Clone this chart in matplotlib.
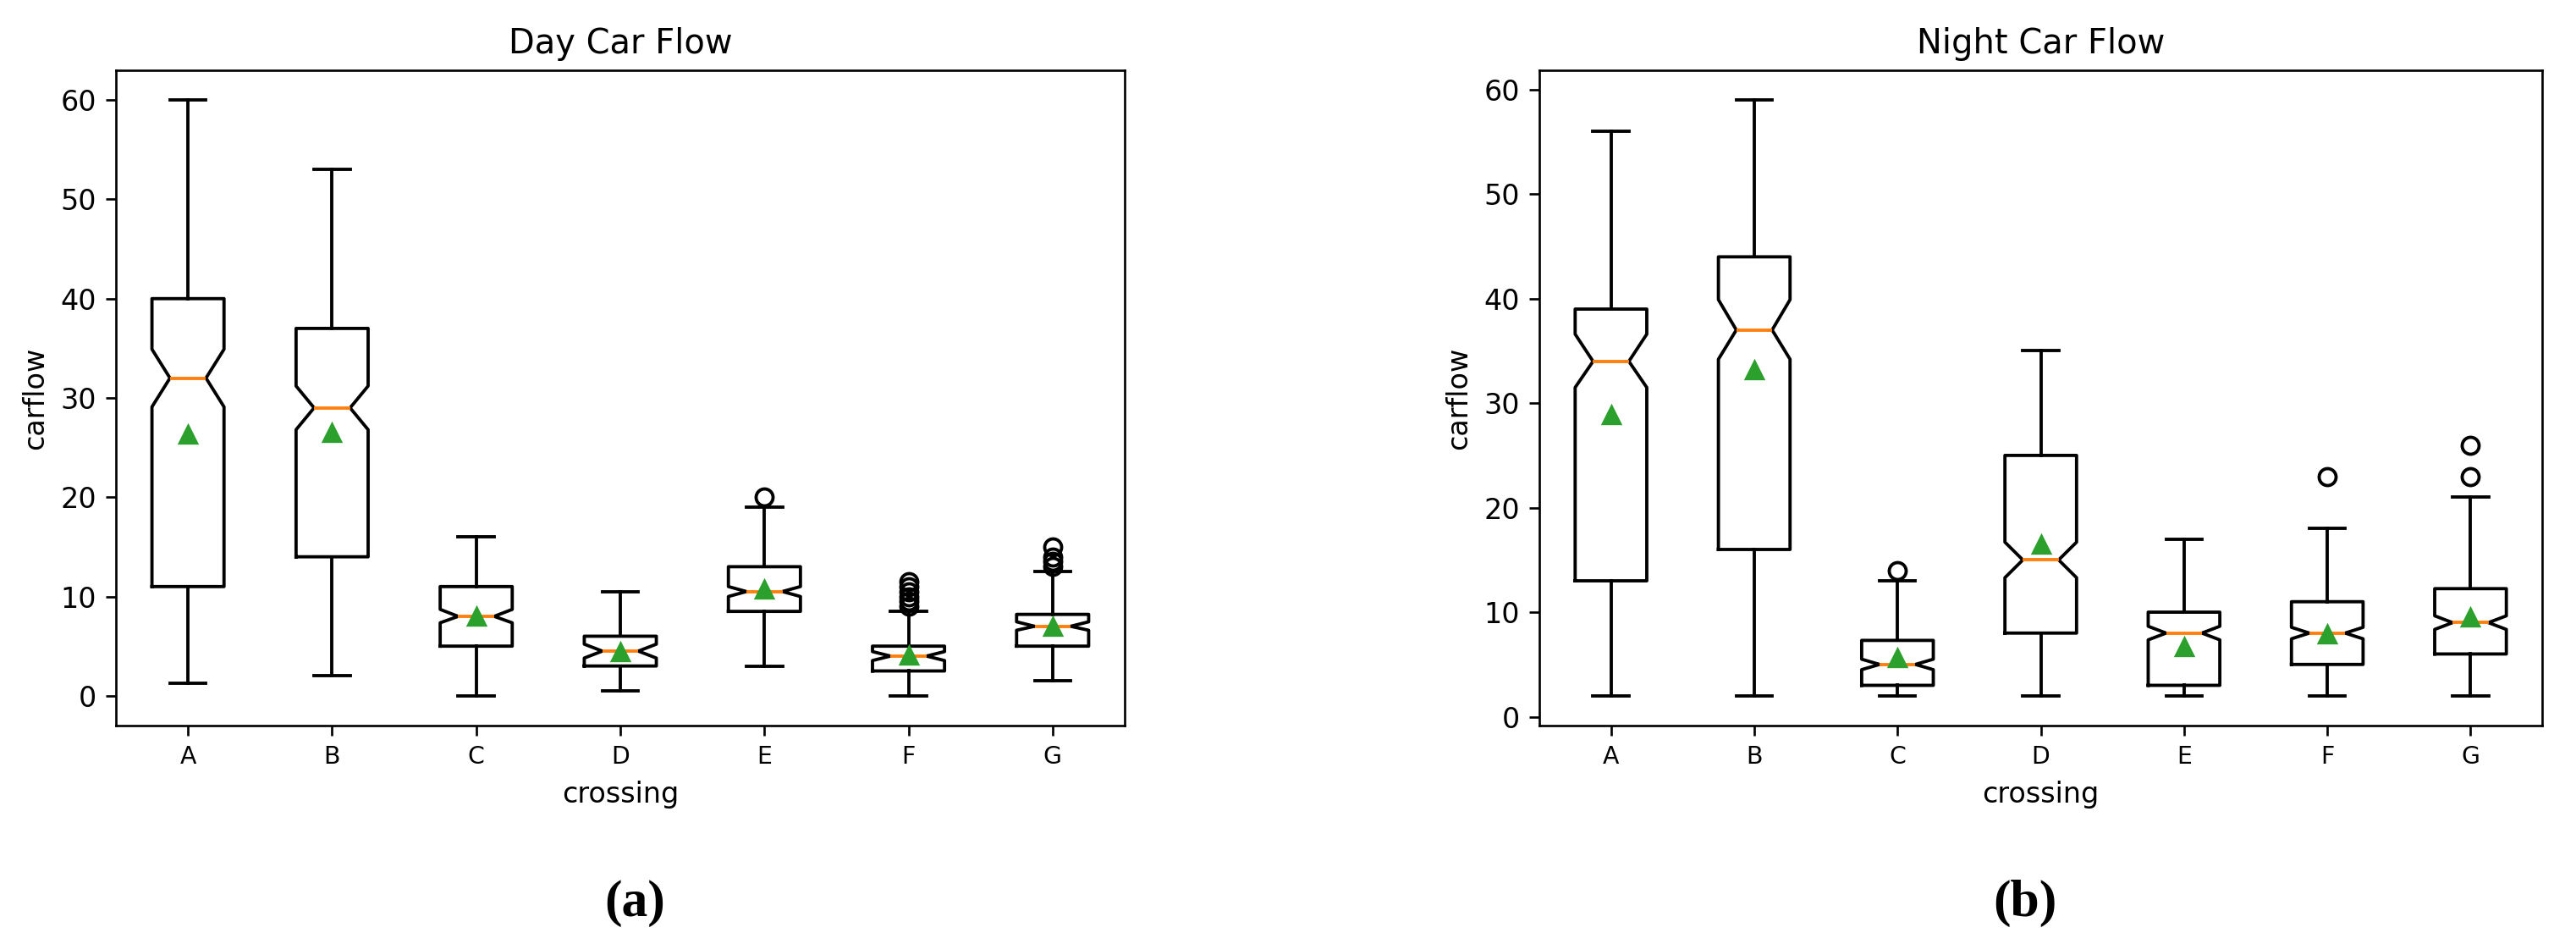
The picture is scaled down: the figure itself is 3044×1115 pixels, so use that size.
import matplotlib
matplotlib.use("Agg")
import matplotlib.pyplot as plt

# crossings on the x axis
crossings = ["A", "B", "C", "D", "E", "F", "G"]

# Day car flow: box statistics
day_whislo = [1.25, 2, 0, 0.5, 3, 0, 1.5]
day_q1 = [11, 14, 5, 3, 8.5, 2.5, 5]
day_med = [32, 29, 8, 4.5, 10.5, 4, 7]
day_q3 = [40, 37, 11, 6, 13, 5, 8.2]
day_whishi = [60, 53, 16, 10.5, 19, 8.5, 12.5]
day_mean = [26.3, 26.5, 8.0, 4.4, 10.7, 4.1, 7.0]
day_cilo = [29.1, 26.8, 7.35, 3.8, 10.0, 3.55, 6.6]
day_cihi = [34.9, 31.2, 8.7, 5.2, 11.0, 4.45, 7.45]
day_fliers = [[], [], [], [], [20], [9, 9.5, 10, 10.5, 11, 11.5], [13, 13.5, 14, 15]]

# Night car flow
night_whislo = [2, 2, 2, 2, 2, 2, 2]
night_q1 = [13, 16, 3, 8, 3, 5, 6]
night_med = [34, 37, 5, 15, 8, 8, 9]
night_q3 = [39, 44, 7.3, 25, 10, 11, 12.25]
night_whishi = [56, 59, 13, 35, 17, 18, 21]
night_mean = [28.9, 33.2, 5.6, 16.5, 6.7, 7.9, 9.5]
night_cilo = [31.5, 34.2, 4.5, 13.3, 7.35, 7.45, 8.35]
night_cihi = [36.6, 39.9, 5.5, 16.7, 8.65, 8.55, 9.65]
night_fliers = [[], [], [14], [], [], [23], [23, 26]]


def make_stats(lo, q1, med, q3, hi, mean, cilo, cihi, fliers):
    stats = []
    for i in range(len(crossings)):
        stats.append(dict(whislo=lo[i], q1=q1[i], med=med[i], q3=q3[i],
                          whishi=hi[i], mean=mean[i], cilo=cilo[i],
                          cihi=cihi[i], fliers=fliers[i], label=crossings[i]))
    return stats


fig = plt.figure(figsize=(3044 / 240, 1115 / 240), dpi=240)
ax1 = fig.add_axes([137 / 3044, 1 - 857 / 1115, 1192 / 3044, 774 / 1115])
ax2 = fig.add_axes([1819 / 3044, 1 - 857 / 1115, 1185 / 3044, 774 / 1115])

day = make_stats(day_whislo, day_q1, day_med, day_q3, day_whishi,
                 day_mean, day_cilo, day_cihi, day_fliers)
night = make_stats(night_whislo, night_q1, night_med, night_q3, night_whishi,
                   night_mean, night_cilo, night_cihi, night_fliers)

lw = 1.15
for ax, stats, title in [(ax1, day, "Day Car Flow"), (ax2, night, "Night Car Flow")]:
    ax.bxp(stats, shownotches=True, showmeans=True, widths=0.5,
           boxprops=dict(linewidth=lw), whiskerprops=dict(linewidth=lw),
           capprops=dict(linewidth=lw), medianprops=dict(linewidth=lw),
           flierprops=dict(markeredgewidth=lw))
    ax.set_title(title, fontsize=12)
    ax.set_xlabel("crossing", fontsize=10)
    ax.set_ylabel("carflow", fontsize=10)
    ax.tick_params(axis="x", labelsize=8.5)
    ax.tick_params(axis="y", labelsize=10)
    ax.set_yticks([0, 10, 20, 30, 40, 50, 60])

fig.text(750 / 3044, 1 - 1067 / 1115, "(a)", ha="center", va="center",
         fontsize=18.5, fontweight="bold", family="Liberation Serif")
fig.text(2393 / 3044, 1 - 1067 / 1115, "(b)", ha="center", va="center",
         fontsize=18.5, fontweight="bold", family="Liberation Serif")

fig.savefig("out.png", dpi=240)
